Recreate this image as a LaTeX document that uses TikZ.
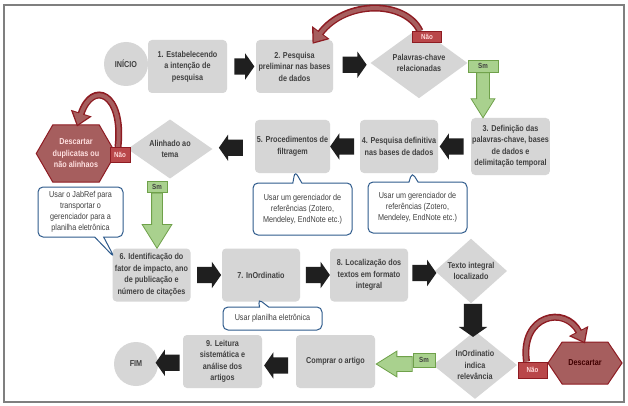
\documentclass[tikz,border=0pt]{standalone}
\usepackage{fontspec}
\setmainfont{Liberation Sans}[FakeStretch=0.84]
\usetikzlibrary{shapes.geometric,shapes.arrows,shapes.symbols,shapes.callouts,arrows.meta,calc}
\definecolor{boxgray}{HTML}{D6D6D6}
\definecolor{txtgray}{HTML}{404040}
\definecolor{redline}{HTML}{8E1B22}
\definecolor{redfill}{HTML}{A65E5E}
\definecolor{tagred}{HTML}{B9474A}
\definecolor{grnline}{HTML}{6FA14A}
\definecolor{grnfill}{HTML}{A9D18E}
\definecolor{noteblue}{HTML}{2F5B8C}
\definecolor{framegray}{HTML}{7F7F7F}
\newcommand\stepfont{\fontsize{8.6}{11.5}\selectfont\bfseries}
\newcommand\notefont{\fontsize{8.6}{11}\selectfont}
\newcommand\tagfont{\fontsize{7.4}{8}\selectfont\bfseries}
\tikzset{stepbox/.style={rectangle,rounded corners=4pt,fill=boxgray,text=txtgray,font=\stepfont,align=center,
           minimum width=78pt,minimum height=53pt,inner sep=1pt},
         terminal/.style={circle,fill=boxgray,text=txtgray,font=\stepfont,minimum size=44pt,inner sep=0pt},
         decision/.style={diamond,fill=boxgray,text=txtgray,font=\stepfont,align=center,inner sep=0pt},
         notag/.style={rectangle,draw=redline,fill=tagred,line width=1pt,text=white!85!red,font=\tagfont,inner sep=0pt},
         yestag/.style={rectangle,draw=grnline,fill=grnfill,line width=0.8pt,text=txtgray,font=\tagfont,inner sep=0pt},
         discard/.style={signal,signal to=west and east,draw=redline,fill=redfill,line width=1pt,font=\stepfont,
           align=center,inner sep=0pt},
         note/.style={rectangle callout,rounded corners=5pt,draw=noteblue,line width=1pt,fill=white,text=txtgray,
           font=\notefont,align=center,callout pointer width=9pt,inner sep=1pt},
         blk/.style={single arrow,fill=black!88,inner xsep=0pt,inner ysep=8pt,minimum height=24pt,minimum width=26pt,
           single arrow head extend=5pt,single arrow tip angle=110},
         grn/.style={single arrow,draw=grnline,fill=grnfill,line width=0.8pt,inner xsep=0pt,single arrow tip angle=64},
         redback/.style={preaction={draw=redline,line width=7pt,shorten >=0pt,-{Triangle[length=14pt,width=21pt]}},
           draw=redfill,line width=4pt,shorten >=2pt,-{Triangle[length=11pt,width=16pt]}}}

\begin{document}
\begin{tikzpicture}[x=1pt,y=-1pt]
\useasboundingbox (0,0) rectangle (628,406);
\fill[white] (0,0) rectangle (628,406);
\draw[framegray,line width=2pt] (4,5) rectangle (624,402);

% first row
\node[terminal] (inicio) at (126,64) {INÍCIO};
\node[stepbox,minimum width=79pt] (b1) at (187.5,66.5) {1. Estabelecendo\\a intenção de\\pesquisa};
\node[stepbox,minimum width=77pt] (b2) at (294.5,66.5) {2. Pesquisa\\preliminar nas bases\\de dados};
\node[decision,minimum width=97pt,minimum height=60pt] (kw) at (419,63) {Palavras-chave\\relacionadas};

% second row
\node[stepbox,minimum width=77pt,minimum height=57pt] (b3) at (510.5,146.5) {3. Definição das\\palavras-chave, bases\\de dados e\\delimitação temporal};
\node[stepbox] (b4) at (399,146.5) {4. Pesquisa definitiva\\nas bases de dados};
\node[stepbox,minimum width=75pt] (b5) at (292.5,146.5) {5. Procedimentos de\\filtragem};
\node[decision,minimum width=85pt,minimum height=58pt] (align) at (170,149) {Alinhado ao\\tema};
\node[discard,minimum width=72pt,minimum height=57pt,signal pointer angle=120,text=white!88!red] (dupl) at (76,153.5) {Descartar\\duplicatas ou\\não alinhaos};

% third row
\node[stepbox] (b6) at (151.5,275) {6. Identificação do\\fator de impacto, ano\\de publicação e\\número de citações};
\node[stepbox] (b7) at (261,275) {7. InOrdinatio};
\node[stepbox] (b8) at (369,275) {8. Localização dos\\textos em formato\\integral};
\node[decision,minimum width=72pt,minimum height=53pt] (found) at (471,271) {Texto integral\\localizado};

% last row
\node[decision,minimum width=84pt,minimum height=56pt] (rel) at (475,365) {InOrdinatio\\indica\\relevância};
\node[stepbox,minimum width=79pt] (buy) at (335.5,361.5) {Comprar o artigo};
\node[stepbox,minimum width=79pt] (b9) at (222.5,361.5) {9. Leitura\\sistemática e\\análise dos\\artigos};
\node[terminal] (fim) at (136,364) {FIM};
\node[discard,minimum width=74pt,minimum height=42pt,signal pointer angle=112,text=black!75!red] (disc) at (585,363) {Descartar};

% notes
\node[note,minimum width=85pt,minimum height=50pt,callout absolute pointer={([xshift=2pt,yshift=-9pt]b6.north west)}] (jab) at (80.5,212) {Usar o JabRef para\\transportar o\\gerenciador para a\\planilha eletrônica};
\node[note,minimum width=99pt,minimum height=52pt,callout absolute pointer={([xshift=2.5pt,yshift=2pt]b5.south)}] (zot1) at (302.5,209) {Usar um gerenciador de\\referências (Zotero,\\Mendeley, EndNote etc.)};
\node[note,minimum width=99pt,minimum height=51pt,callout absolute pointer={([xshift=13pt,yshift=1pt]b4.south)}] (zot2) at (417.5,207.5) {Usar um gerenciador de\\referências (Zotero,\\Mendeley, EndNote etc.)};
\node[note,minimum width=99pt,minimum height=23pt,callout absolute pointer={([xshift=-3pt,yshift=3pt]b7.south)}] (plan) at (272.5,318.5) {Usar planilha eletrônica};

% block arrows
\node[blk,minimum height=20pt] (a1) at ($(b1.east)!.5!(b2.west)$) {};
\node[blk] (a2) at ($(b2.east)!.5!(kw.west)$) {};
\node[blk,rotate=180] (a3) at ($(b3.west)!.5!(b4.east)$) {};
\node[blk,rotate=180] (a4) at ($(b4.west)!.5!(b5.east)$) {};
\node[blk,rotate=180] (a5) at ($(b5.west)!.5!(align.east)$) {};
\node[blk] (a6) at ($(b6.east)!.5!(b7.west)$) {};
\node[blk] (a7) at ($(b7.east)!.5!(b8.west)$) {};
\node[blk] (a8) at ($(b8.east)!.5!(found.west)$) {};
\node[blk,rotate=-90,minimum height=33pt,minimum width=28pt,inner ysep=9pt] (a9) at ($(found.south)!.5!(rel.north)$) {};
\node[blk,rotate=180] (a10) at ([yshift=-4pt]$(buy.west)!.5!(b9.east)$) {};
\node[blk,rotate=180] (a11) at ($(b9.west)!.5!(fim.east)$) {};

% loops back
\node[notag,minimum width=29pt,minimum height=11pt] (naoA) at (427,37) {Não};
\node[notag,minimum width=20pt,minimum height=15pt] (naoB) at (120,155) {Não};
\node[notag,minimum width=29pt,minimum height=16pt] (naoC) at (532.5,370) {Não};
\draw[redback] ([xshift=-7pt]naoA.north) .. controls (405,0) and (345,0) .. ([xshift=18pt,yshift=-4pt]b2.north);
\draw[redback] ([xshift=-2pt]naoB.north) .. controls (124,92) and (92,80) .. ([xshift=1pt,yshift=-2pt]dupl.north);
\draw[redback] ([xshift=-6pt]naoC.north) .. controls (520,315) and (565,305) .. ([yshift=-2pt]disc.north);
\node[notag,minimum width=29pt,minimum height=11pt] at (naoA) {Não};
\node[notag,minimum width=20pt,minimum height=15pt] at (naoB) {Não};
\node[notag,minimum width=29pt,minimum height=16pt] at (naoC) {Não};

% yes branches
\node[yestag,minimum width=30pt,minimum height=12pt] (smA) at (483,66) {Sm};
\node[yestag,minimum width=20pt,minimum height=11pt] (smB) at (157,187) {Sm};
\node[yestag,minimum width=22pt,minimum height=14pt] (smC) at (424,360) {Sm};
\node[grn,rotate=-90,anchor=tail,minimum height=45pt,minimum width=23pt,inner ysep=6pt,single arrow head extend=5.5pt] (gA) at (smA.south) {};
\node[grn,rotate=-90,anchor=tail,minimum height=55pt,minimum width=29pt,inner ysep=5pt,single arrow head extend=9.5pt] (gB) at (smB.south) {};
\node[grn,rotate=180,anchor=tail,minimum height=36pt,minimum width=25pt,inner ysep=7pt,single arrow head extend=5.5pt] (gC) at ([yshift=-4pt]smC.west) {};
\end{tikzpicture}
\end{document}
